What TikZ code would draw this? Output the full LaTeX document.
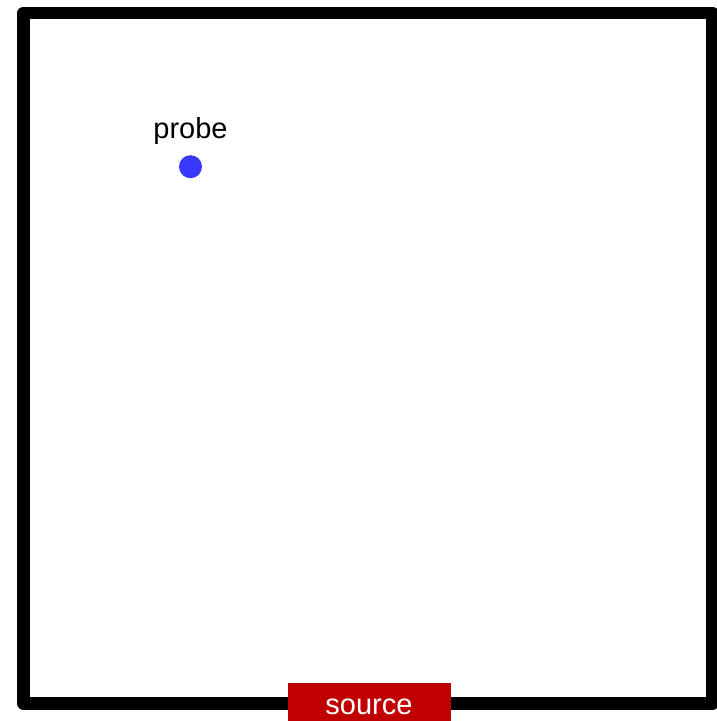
\documentclass[tikz,border=0pt]{standalone}
\usepackage{fontspec}
\setmainfont{Liberation Sans}
\definecolor{probeblue}{RGB}{56,56,255}
\definecolor{sourcered}{RGB}{192,0,0}
\begin{document}
\begin{tikzpicture}[x=1pt, y=-1pt, font=\fontsize{29}{34}\selectfont]
			      \useasboundingbox (0, 0) rectangle (717, 721);

			      \draw[line width=12.5pt, line join=round] (23.5, 13) rectangle (712.5, 703.5);

			      \node[shape=circle, fill=probeblue, inner sep=0pt, minimum size=23pt, label={[label distance=7pt]above:probe}] (probe) at (190.5, 166.7){};
			      \node[shape=rectangle, fill=sourcered, text=white, inner sep=0pt, minimum width=163pt, minimum height=38pt, anchor=north] (source) at (369.5, 683){};
			      \node[text=white, anchor=base] (sourcelabel) at (369, 714){source};
		      \end{tikzpicture}
\end{document}
